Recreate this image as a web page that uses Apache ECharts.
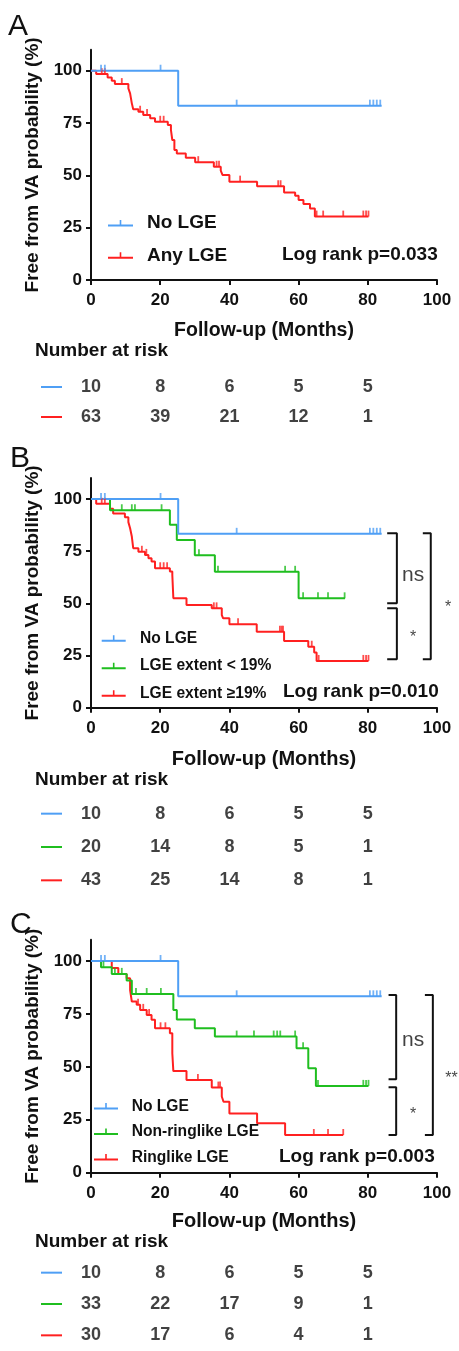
<!DOCTYPE html>
<html><head><meta charset="utf-8">
<script src="https://cdn.jsdelivr.net/npm/echarts@6/dist/echarts.min.js"></script>
<style>html,body{margin:0;padding:0;background:#fff}#chart{width:459px;height:1351px}</style>
</head><body><div id="chart"></div>
<script>
// ================= DATA =================
const xTicks = [0, 20, 40, 60, 80, 100];
const yTicks = [0, 25, 50, 75, 100];
const riskTimes = [0, 20, 40, 60, 80];

// No LGE (same group in all panels)
const noLgeSteps = [[0,100],[25.2,83.3],[84,83.3]];
const noLgeCensored = [[2.9,100],[4.0,100],[20.1,100],[42.1,83.3],[80.6,83.3],[81.6,83.3],[82.6,83.3],[83.6,83.3]];

// Panel A: Any LGE
const anyLgeSteps = [[0,100],[1.5,98.4],[4.8,96.8],[6.0,95.2],[6.9,93.6],[10.8,91.6],[11.3,89.2],[11.8,84.4],[12.2,81.6],[13.7,80.4],[15.1,78.8],[17.1,77.3],[18.5,75.6],[22.2,74.1],[23.1,71.7],[23.5,66.9],[24.1,62.1],[24.8,60.5],[27.4,58.4],[30.1,56.3],[35.5,54.1],[37.5,52.3],[38.0,50.2],[40.0,47.0],[48.0,44.8],[55.8,41.8],[59.0,40.2],[60.0,38.2],[61.4,36.3],[63.3,34.2],[64.7,30.3],[80.2,30.3]];
const anyLgeCensored = [[3.1,98.4],[4.0,98.4],[8.9,93.6],[14.2,80.4],[16.2,78.8],[20.0,75.6],[21.0,75.6],[31.0,56.3],[36.3,54.1],[37.0,54.1],[43.1,47.0],[54.1,44.8],[54.8,44.8],[65.2,30.3],[67.1,30.3],[72.9,30.3],[78.7,30.3],[79.5,30.3],[80.2,30.3]];

// Panel B: LGE extent < 19% / >= 19%
const extSmallSteps = [[0,100],[5.5,94.6],[22.8,87.7],[24.8,80.4],[30.0,73.0],[35.8,65.1],[60.0,52.4],[73.4,52.4]];
const extSmallCensored = [[8.9,94.6],[11.8,94.6],[12.7,94.6],[20.4,94.6],[31.2,73.0],[36.7,65.1],[56.1,65.1],[59.0,65.1],[61.3,52.4],[65.6,52.4],[68.5,52.4],[73.3,52.4]];
const extLargeSteps = [[0,100],[1.5,97.7],[5.5,95.3],[6.4,93.0],[9.8,91.2],[10.8,88.9],[11.3,86.0],[11.8,82.0],[12.2,76.4],[13.7,74.7],[15.6,73.2],[16.6,71.6],[17.5,70.0],[18.5,66.8],[22.8,65.2],[23.5,63.6],[23.8,52.4],[27.6,49.2],[34.9,47.6],[37.8,44.4],[38.2,42.8],[40.0,40.0],[47.9,36.4],[55.8,32.0],[62.8,29.2],[64.5,26.5],[65.2,22.4],[80.2,22.4]];
const extLargeCensored = [[3.1,97.7],[4.0,97.7],[14.7,74.7],[16.0,73.2],[20.0,66.8],[21.0,66.8],[22.0,66.8],[35.5,47.6],[36.3,47.6],[42.5,40.0],[54.6,36.4],[55.1,36.4],[55.5,36.4],[63.8,29.2],[65.8,22.4],[78.7,22.4],[79.5,22.4],[80.2,22.4]];

// Panel C: Non-ringlike / Ringlike LGE
const nonRingSteps = [[0,100],[2.9,97.0],[6.0,93.9],[10.3,90.8],[11.8,84.4],[23.8,76.8],[24.8,72.3],[30.0,68.2],[35.8,64.3],[59.4,58.8],[62.8,49.3],[65.0,41.0],[80.2,41.0]];
const nonRingCensored = [[3.6,97.0],[6.9,93.9],[8.9,93.9],[13.0,84.4],[16.1,84.4],[20.2,84.4],[42.1,64.3],[47.1,64.3],[52.8,64.3],[53.8,64.3],[54.7,64.3],[59.0,64.3],[61.3,58.8],[65.6,41.0],[78.7,41.0],[79.5,41.0],[80.2,41.0]];
const ringSteps = [[0,100],[6.0,96.7],[7.9,93.8],[10.3,91.8],[11.3,86.3],[11.8,80.8],[13.2,79.3],[14.2,76.9],[16.1,74.5],[17.5,72.2],[18.5,68.2],[22.8,65.9],[23.5,56.4],[23.8,48.0],[27.6,43.8],[34.9,40.2],[37.8,36.0],[38.3,33.5],[40.0,28.0],[48.0,23.3],[56.1,17.8],[72.9,17.8]];
const ringCensored = [[13.6,79.3],[15.1,76.9],[16.8,74.5],[20.1,68.2],[21.5,68.2],[30.9,43.8],[36.8,40.2],[37.3,40.2],[64.4,17.8],[68.5,17.8],[72.9,17.8]];

// Numbers at risk
const riskA_noLge = [10, 8, 6, 5, 5];
const riskA_anyLge = [63, 39, 21, 12, 1];
const riskB_noLge = [10, 8, 6, 5, 5];
const riskB_small = [20, 14, 8, 5, 1];
const riskB_large = [43, 25, 14, 8, 1];
const riskC_noLge = [10, 8, 6, 5, 5];
const riskC_nonRing = [33, 22, 17, 9, 1];
const riskC_ring = [30, 17, 6, 4, 1];

// Significance brackets
const bracketB_ns = [[85.6,83.6],[88.4,83.6],[88.4,50.0],[85.6,50.0]];
const bracketB_star = [[85.6,47.6],[88.4,47.6],[88.4,23.2],[85.6,23.2]];
const bracketB_all = [[95.9,83.6],[98.2,83.6],[98.2,23.2],[95.9,23.2]];
const bracketC_ns = [[86.0,83.9],[88.2,83.9],[88.2,44.1],[86.0,44.1]];
const bracketC_star = [[86.0,40.3],[88.2,40.3],[88.2,17.8],[86.0,17.8]];
const bracketC_all = [[96.5,83.9],[98.8,83.9],[98.8,17.8],[96.5,17.8]];
const sigB_ns = [[93.1,63.7,'ns']];
const sigB_stars = [[93.1,33.4,'*'],[103.2,47.9,'*']];
const sigC_ns = [[93.1,62.7,'ns']];
const sigC_stars = [[93.1,27.3,'*'],[104.2,44.6,'**']];

// ================= STYLE =================
const FONT = '"Liberation Sans", Arial, Helvetica, sans-serif';
const BLUE = '#4f9ff5', GREEN = '#1fbe1f', RED = '#ff2020', INK = '#111';

function iconPath(w) {
  return 'path://M0,4.5L' + w + ',4.5L' + w + ',6.5L0,6.5Z M' + (w/2-0.8) + ',0L' + (w/2+0.8) + ',0L' + (w/2+0.8) + ',4.5L' + (w/2-0.8) + ',4.5Z';
}

const grids = [
  {left:91, right:22, top:49.8, height:230.2},
  {left:91, right:22, top:372, height:60},
  {left:91, right:22, top:478.1, height:229.6},
  {left:91, right:22, top:797, height:100},
  {left:91, right:22, top:939.8, height:232.9},
  {left:91, right:22, top:1257, height:102}
];

function plotX(gi, nameGap, nameSize) {
  return {gridIndex:gi, type:'value', min:0, max:100, interval:20,
    name:'Follow-up (Months)', nameLocation:'middle', nameGap:nameGap,
    nameTextStyle:{fontSize:nameSize, fontWeight:'bold', color:INK, fontFamily:FONT},
    axisLine:{show:true, onZero:false, lineStyle:{color:INK, width:2}},
    axisTick:{show:true, length:5, lineStyle:{color:INK, width:2}},
    axisLabel:{fontSize:17, fontWeight:'bold', color:INK, margin:12, fontFamily:FONT},
    splitLine:{show:false}};
}
function plotY(gi) {
  return {gridIndex:gi, type:'value', min:0, max:110,
    name:'Free from VA probability (%)', nameLocation:'middle', nameGap:38,
    nameTextStyle:{fontSize:19, fontWeight:'bold', color:INK, fontFamily:FONT},
    axisLine:{show:true, lineStyle:{color:INK, width:2}},
    axisTick:{show:true, length:5, lineStyle:{color:INK, width:2}, customValues:yTicks},
    axisLabel:{show:true, fontSize:17, fontWeight:'bold', color:INK, margin:9, fontFamily:FONT, customValues:yTicks},
    splitLine:{show:false}};
}
function riskX(gi) { return {gridIndex:gi, type:'value', min:0, max:100, show:false}; }
function riskY(gi, names, colors) {
  const rich = {};
  colors.forEach((c, i) => { rich['k' + i] = {width:21, height:2, backgroundColor:c}; });
  return {gridIndex:gi, type:'category', inverse:true, data:names,
    axisLine:{show:false}, axisTick:{show:false}, splitLine:{show:false},
    axisLabel:{show:true, margin:29, formatter:(v, i) => '{k' + i + '| }', rich:rich}};
}

function kmSeries(gi, name, steps, censored, color) {
  return [
    {type:'line', name:name, xAxisIndex:gi, yAxisIndex:gi, data:steps, step:'end',
     symbol:'none', showSymbol:false, lineStyle:{color:color, width:2}, itemStyle:{color:color}, z:3},
    {type:'scatter', name:name + ' (censored)', xAxisIndex:gi, yAxisIndex:gi, data:censored,
     symbol:'rect', symbolSize:[1.8,6], symbolOffset:[0,-3], itemStyle:{color:color}, silent:true, z:4}
  ];
}
function riskSeries(gi, rows) {
  const data = [];
  rows.forEach((arr, ri) => arr.forEach((n, i) => data.push([riskTimes[i], ri, n])));
  return {type:'scatter', xAxisIndex:gi, yAxisIndex:gi, data:data, symbolSize:1,
    itemStyle:{color:'rgba(0,0,0,0)'}, silent:true,
    label:{show:true, position:'inside', formatter:p => String(p.value[2]),
      fontSize:18, fontWeight:'bold', color:INK, fontFamily:FONT}};
}
function bracket(gi, pts) {
  return {type:'line', xAxisIndex:gi, yAxisIndex:gi, data:pts, symbol:'none', clip:false, silent:true,
    lineStyle:{color:INK, width:2}, z:5};
}
function sigText(gi, pts, size) {
  return {type:'scatter', xAxisIndex:gi, yAxisIndex:gi, data:pts, symbolSize:1, clip:false, silent:true,
    itemStyle:{color:'rgba(0,0,0,0)'},
    label:{show:true, position:'inside', formatter:p => p.value[2], fontSize:size, color:INK, fontFamily:FONT}};
}
function titleText(text, left, top, size, weight) {
  return {text:text, left:left, top:top, padding:0,
    textStyle:{fontSize:size, fontWeight:weight, color:INK, fontFamily:FONT, lineHeight:size + 4}};
}
function legendBox(left, top, gap, w, size, pad, names) {
  return {orient:'vertical', left:left, top:top, padding:0, itemGap:gap, itemWidth:w, itemHeight:6.5,
    icon:iconPath(w), selectedMode:false, data:names,
    textStyle:{fontSize:size, fontWeight:'bold', color:INK, fontFamily:FONT, lineHeight:size + 4, padding:[0,0,0,pad]}};
}

const option = {
  animation:false,
  backgroundColor:'#fff',
  textStyle:{fontFamily:FONT},
  grid:grids,
  xAxis:[plotX(0,41,19.5), riskX(1), plotX(2,42,20), riskX(3), plotX(4,39,20), riskX(5)],
  yAxis:[
    plotY(0), riskY(1, ['No LGE','Any LGE'], [BLUE, RED]),
    plotY(2), riskY(3, ['No LGE','LGE extent < 19%','LGE extent ≥19%'], [BLUE, GREEN, RED]),
    plotY(4), riskY(5, ['No LGE','Non-ringlike LGE','Ringlike LGE'], [BLUE, GREEN, RED])
  ],
  title:[
    titleText('A', 8, 10, 30, 'normal'),
    titleText('B', 10, 442, 30, 'normal'),
    titleText('C', 10, 908, 30, 'normal'),
    titleText('Log rank p=0.033', 282, 243.5, 19, 'bold'),
    titleText('Log rank p=0.010', 283, 680.2, 19, 'bold'),
    titleText('Log rank p=0.003', 279, 1145.5, 19, 'bold'),
    titleText('Number at risk', 35, 339.5, 19, 'bold'),
    titleText('Number at risk', 35, 768.5, 19, 'bold'),
    titleText('Number at risk', 35, 1230.5, 19, 'bold')
  ],
  legend:[
    legendBox(108, 211.7, 9.3, 25, 19, 9, ['No LGE','Any LGE']),
    legendBox(101.7, 628.8, 7.9, 24, 15.6, 9.3, ['No LGE','LGE extent < 19%','LGE extent ≥19%']),
    legendBox(94, 1096.5, 5.9, 24, 15.6, 8.7, ['No LGE','Non-ringlike LGE','Ringlike LGE'])
  ],
  series:[].concat(
    kmSeries(0, 'Any LGE', anyLgeSteps, anyLgeCensored, RED),
    kmSeries(0, 'No LGE', noLgeSteps, noLgeCensored, BLUE),
    riskSeries(1, [riskA_noLge, riskA_anyLge]),
    kmSeries(2, 'LGE extent ≥19%', extLargeSteps, extLargeCensored, RED),
    kmSeries(2, 'LGE extent < 19%', extSmallSteps, extSmallCensored, GREEN),
    kmSeries(2, 'No LGE', noLgeSteps, noLgeCensored, BLUE),
    riskSeries(3, [riskB_noLge, riskB_small, riskB_large]),
    bracket(2, bracketB_ns), bracket(2, bracketB_star), bracket(2, bracketB_all),
    sigText(2, sigB_ns, 21), sigText(2, sigB_stars, 16),
    kmSeries(4, 'Ringlike LGE', ringSteps, ringCensored, RED),
    kmSeries(4, 'Non-ringlike LGE', nonRingSteps, nonRingCensored, GREEN),
    kmSeries(4, 'No LGE', noLgeSteps, noLgeCensored, BLUE),
    riskSeries(5, [riskC_noLge, riskC_nonRing, riskC_ring]),
    bracket(4, bracketC_ns), bracket(4, bracketC_star), bracket(4, bracketC_all),
    sigText(4, sigC_ns, 21), sigText(4, sigC_stars, 16)
  )
};

const chart = echarts.init(document.getElementById('chart'), null, {renderer:'canvas'});
chart.setOption(option);
</script>
</body></html>
